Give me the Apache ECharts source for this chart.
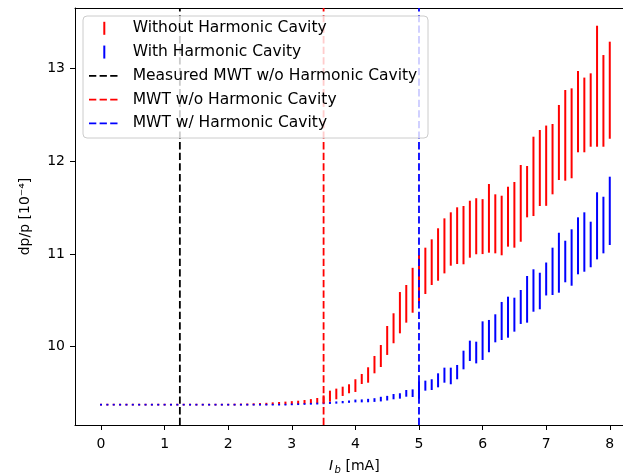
<!DOCTYPE html>
<html><head><meta charset="utf-8">
<script src="https://cdn.jsdelivr.net/npm/echarts@6/dist/echarts.min.js"></script>
<style>html,body{margin:0;padding:0;background:#fff}#c{width:623px;height:476px}</style>
</head><body><div id="c"></div>
<script>
// Beam current I_b [mA]
const xValues = [0.0,0.1,0.2,0.3,0.4,0.5,0.6,0.7,0.8,0.9,1.0,1.1,1.2,1.3,1.4,1.5,1.6,1.7,1.8,1.9,2.0,2.1,2.2,2.3,2.4,2.5,2.6,2.7,2.8,2.9,3.0,3.1,3.2,3.3,3.4,3.5,3.6,3.7,3.8,3.9,4.0,4.1,4.2,4.3,4.4,4.5,4.6,4.7,4.8,4.9,5.0,5.1,5.2,5.3,5.4,5.5,5.6,5.7,5.8,5.9,6.0,6.1,6.2,6.3,6.4,6.5,6.6,6.7,6.8,6.9,7.0,7.1,7.2,7.3,7.4,7.5,7.6,7.7,7.8,7.9,8.0];
// Without harmonic cavity: range (low, high) of dp/p [1e-4]
const withoutLow = [9.366,9.366,9.366,9.366,9.366,9.366,9.366,9.366,9.366,9.366,9.366,9.366,9.366,9.366,9.366,9.366,9.366,9.366,9.366,9.366,9.366,9.366,9.367,9.367,9.368,9.369,9.370,9.372,9.374,9.376,9.378,9.380,9.382,9.385,9.388,9.392,9.407,9.433,9.469,9.498,9.512,9.598,9.612,9.713,9.781,9.911,10.037,10.144,10.259,10.366,10.468,10.568,10.665,10.711,10.790,10.873,10.891,10.888,10.959,10.996,10.998,11.013,11.006,10.985,11.078,11.067,11.131,11.394,11.408,11.516,11.518,11.642,11.796,11.789,11.815,12.095,12.095,12.155,12.155,12.155,12.241];
const withoutHigh = [9.385,9.385,9.385,9.385,9.385,9.385,9.385,9.385,9.385,9.385,9.385,9.385,9.385,9.385,9.385,9.385,9.385,9.385,9.385,9.385,9.385,9.386,9.387,9.388,9.390,9.392,9.395,9.400,9.404,9.408,9.413,9.418,9.425,9.435,9.447,9.475,9.526,9.548,9.569,9.595,9.649,9.706,9.778,9.900,10.018,10.223,10.360,10.589,10.665,10.850,10.988,11.067,11.157,11.276,11.383,11.448,11.502,11.516,11.573,11.600,11.590,11.753,11.642,11.627,11.724,11.775,11.958,11.947,12.263,12.335,12.383,12.400,12.605,12.766,12.784,12.971,12.900,12.946,13.459,13.143,13.287];
// With harmonic cavity
const withLow = [9.366,9.366,9.366,9.366,9.366,9.366,9.366,9.366,9.366,9.366,9.366,9.366,9.366,9.366,9.366,9.366,9.366,9.366,9.366,9.366,9.366,9.366,9.366,9.366,9.366,9.366,9.366,9.366,9.366,9.366,9.369,9.371,9.373,9.375,9.377,9.380,9.383,9.386,9.390,9.395,9.400,9.400,9.401,9.405,9.410,9.420,9.433,9.440,9.461,9.458,9.440,9.526,9.533,9.562,9.612,9.595,9.649,9.756,9.846,9.820,9.857,9.940,10.047,10.072,10.097,10.162,10.245,10.259,10.377,10.403,10.552,10.557,10.582,10.694,10.657,10.780,10.808,10.856,10.941,11.006,11.096];
const withHigh = [9.384,9.384,9.384,9.384,9.384,9.384,9.384,9.384,9.384,9.384,9.384,9.384,9.384,9.384,9.384,9.384,9.384,9.384,9.384,9.384,9.384,9.384,9.384,9.384,9.384,9.384,9.384,9.384,9.384,9.384,9.387,9.389,9.391,9.394,9.397,9.400,9.405,9.410,9.415,9.420,9.430,9.432,9.438,9.445,9.460,9.470,9.490,9.498,9.533,9.540,9.625,9.634,9.649,9.713,9.774,9.774,9.803,9.957,10.065,10.054,10.273,10.288,10.349,10.482,10.539,10.528,10.611,10.762,10.834,10.797,10.907,11.067,11.228,11.142,11.265,11.394,11.448,11.347,11.664,11.616,11.832];
// Vertical markers (MWT thresholds, mA)
const mwtMeasured = 1.24;
const mwtWithout = 3.5;
const mwtWith = 5.0;
const xTicks = [0,1,2,3,4,5,6,7,8];
const yTicks = [10,11,12,13];
const xRange = [-0.409, 8.208];
const yRange = [9.156, 13.65];

const legendItems = [
  {label:'Without Harmonic Cavity', color:'#ff0000', kind:'tick'},
  {label:'With Harmonic Cavity', color:'#0000ff', kind:'tick'},
  {label:'Measured MWT w/o Harmonic Cavity', color:'#000000', kind:'dash'},
  {label:'MWT w/o Harmonic Cavity', color:'#ff0000', kind:'dash'},
  {label:'MWT w/ Harmonic Cavity', color:'#0000ff', kind:'dash'}
];

const FONT = 'DejaVu Sans';
const DASH = [7.3, 3.3];

function errSeries(name, low, high, color){
  return {
    name, type:'custom', z:2, clip:true,
    data: xValues.map((x,i)=>[x, low[i], high[i]]),
    encode:{x:0, y:[1,2]},
    renderItem(params, api){
      const p1 = api.coord([api.value(0), api.value(1)]);
      const p2 = api.coord([api.value(0), api.value(2)]);
      return {type:'line', shape:{x1:p1[0], y1:p1[1], x2:p2[0], y2:p2[1]},
        style:{stroke:color, lineWidth:2, lineCap:'butt'}};
    }
  };
}
function vline(name, x, color){
  return {name, type:'line', z:3, symbol:'none', silent:true,
    data:[[x, yRange[0]],[x, yRange[1]]],
    lineStyle:{color, width:1.8, type:DASH}};
}

const graphics = [];
const boxX = 83, boxY = 16, boxW = 345, boxH = 122;
graphics.push({type:'rect', z:100, shape:{x:boxX, y:boxY, width:boxW, height:boxH, r:4},
  style:{fill:'rgba(255,255,255,0.8)', stroke:'#cccccc', lineWidth:1}});
legendItems.forEach((it, k)=>{
  const cy = 28.3 + k*23.75;
  if (it.kind === 'tick') {
    graphics.push({type:'line', z:101, shape:{x1:104.3, y1:cy-6.5, x2:104.3, y2:cy+6.5},
      style:{stroke:it.color, lineWidth:2}});
  } else {
    graphics.push({type:'line', z:101, shape:{x1:89, y1:cy, x2:120, y2:cy},
      style:{stroke:it.color, lineWidth:1.8, lineDash:DASH}});
  }
  graphics.push({type:'text', z:101, x:132.7, y:cy,
    style:{text:it.label, fill:'#000', font:'15.5px "'+FONT+'"', verticalAlign:'middle'}});
});
// x-axis label: I_b [mA]
graphics.push({type:'text', z:101, x:329, y:466, style:{text:'I', fill:'#000', font:'italic 14px "'+FONT+'"', verticalAlign:'middle'}});
graphics.push({type:'text', z:101, x:334.5, y:470, style:{text:'b', fill:'#000', font:'italic 10px "'+FONT+'"', verticalAlign:'middle'}});
graphics.push({type:'text', z:101, x:341, y:466, style:{text:' [mA]', fill:'#000', font:'14px "'+FONT+'"', verticalAlign:'middle'}});

const chart = echarts.init(document.getElementById('c'));
chart.setOption({
  animation:false,
  backgroundColor:'#fff',
  grid:{left:75, top:8, right:0, bottom:51, show:false, containLabel:false},
  xAxis:[{type:'value', min:xRange[0], max:xRange[1], position:'bottom',
    axisLine:{show:true, onZero:false, lineStyle:{color:'#000', width:1}},
    axisTick:{show:true, inside:false, length:5, customValues:xTicks, lineStyle:{color:'#000', width:1}},
    axisLabel:{show:true, customValues:xTicks, margin:12, color:'#000', fontSize:14, fontFamily:FONT},
    splitLine:{show:false}},
    {type:'value', min:xRange[0], max:xRange[1], position:'top',
    axisLine:{show:true, onZero:false, lineStyle:{color:'#000', width:1}},
    axisTick:{show:false}, axisLabel:{show:false}, splitLine:{show:false}}],
  yAxis:{type:'value', min:yRange[0], max:yRange[1], position:'left',
    name:'dp/p [10⁻⁴]', nameLocation:'middle', nameRotate:90, nameGap:43,
    nameTextStyle:{color:'#000', fontSize:14, fontFamily:FONT},
    axisLine:{show:true, onZero:false, lineStyle:{color:'#000', width:1}},
    axisTick:{show:true, inside:false, length:5, customValues:yTicks, lineStyle:{color:'#000', width:1}},
    axisLabel:{show:true, customValues:yTicks, margin:10, color:'#000', fontSize:14, fontFamily:FONT},
    splitLine:{show:false}},
  series:[
    errSeries('Without Harmonic Cavity', withoutLow, withoutHigh, '#ff0000'),
    errSeries('With Harmonic Cavity', withLow, withHigh, '#0000ff'),
    vline('Measured MWT w/o Harmonic Cavity', mwtMeasured, '#000000'),
    vline('MWT w/o Harmonic Cavity', mwtWithout, '#ff0000'),
    vline('MWT w/ Harmonic Cavity', mwtWith, '#0000ff')
  ],
  graphic:graphics
});
</script>
</body></html>
